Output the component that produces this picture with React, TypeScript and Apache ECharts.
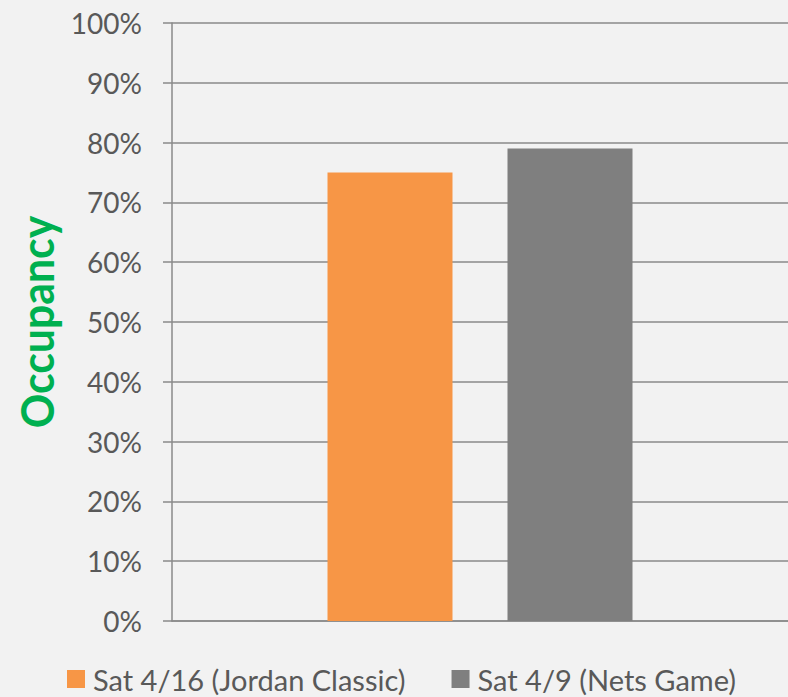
import React, { useEffect, useRef } from "react";
import * as echarts from "echarts";

const categories = [""];
const seriesNames = ["Sat 4/16 (Jordan Classic)", "Sat 4/9 (Nets Game)"];
const jordanClassic = [75];
const netsGame = [79];
const yTicks = { min: 0, max: 100, interval: 10 };
const axisTitle = "Occupancy";

export default function App() {
  const ref = useRef<HTMLDivElement>(null);
  useEffect(() => {
    const chart = echarts.init(ref.current!, null, { renderer: "svg" });
    const font = "Lato";
    chart.setOption({
      animation: false,
      backgroundColor: "#f2f2f2",
      grid: { left: 172, right: 0, top: 23, bottom: 76, containLabel: false },
      legend: {
        left: 62,
        top: 659,
        itemWidth: 18,
        itemHeight: 18,
        itemGap: 46,
        icon: "rect",
        textStyle: { color: "#595959", fontFamily: font, fontSize: 29, lineHeight: 30, padding: [0, 0, 0, 3] },
        data: seriesNames,
      },
      xAxis: {
        type: "category",
        data: categories,
        axisLine: { show: true, lineStyle: { color: "#8a8a8a", width: 1.5 } },
        axisTick: { show: false },
        axisLabel: { show: false },
      },
      yAxis: {
        type: "value",
        min: yTicks.min,
        max: yTicks.max,
        interval: yTicks.interval,
        axisLine: { show: true, lineStyle: { color: "#8a8a8a", width: 1.5 } },
        axisTick: { show: true, length: 9, lineStyle: { color: "#8a8a8a", width: 1.5 } },
        splitLine: { show: true, lineStyle: { color: "#8a8a8a", width: 1.5 } },
        axisLabel: {
          formatter: "{value}%",
          margin: 30,
          color: "#595959",
          fontFamily: font,
          fontSize: 28,
        },
      },
      graphic: [
        {
          type: "text",
          x: 36,
          y: 322,
          rotation: Math.PI / 2,
          scaleX: 0.93,
          style: {
            text: axisTitle,
            font: `bold 46px ${font}`,
            fill: "#00b050",
            textAlign: "center",
            textVerticalAlign: "middle",
          },
        },
      ],
      series: [
        {
          name: seriesNames[0],
          type: "bar",
          data: jordanClassic,
          barWidth: 125,
          barGap: "44%",
          itemStyle: { color: "#f79646" },
        },
        {
          name: seriesNames[1],
          type: "bar",
          data: netsGame,
          barWidth: 125,
          barGap: "44%",
          itemStyle: { color: "#7f7f7f" },
        },
      ],
    });
    return () => chart.dispose();
  }, []);
  return (
    <div
      ref={ref}
      style={{ position: "absolute", left: 0, top: 0, width: 788, height: 697 }}
    />
  );
}
